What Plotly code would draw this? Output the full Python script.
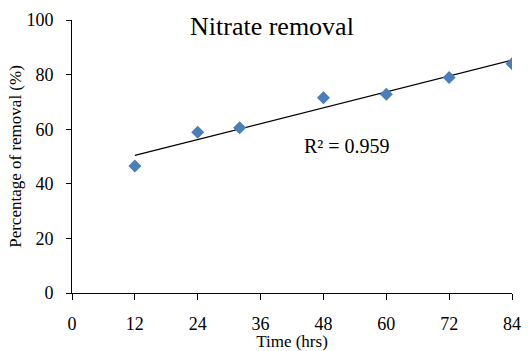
import numpy as np
import plotly.graph_objects as go

time_hrs = [12, 24, 32, 48, 60, 72, 84]
removal_pct = [46.5, 58.9, 60.5, 71.5, 72.8, 78.9, 84.0]
x_ticks = [0, 12, 24, 36, 48, 60, 72, 84]
y_ticks = [0, 20, 40, 60, 80, 100]
title_text = "Nitrate removal"
r2_text = "R² = 0.959"

slope, intercept = np.polyfit(time_hrs, removal_pct, 1)
trend_x = [min(time_hrs), max(time_hrs)]
trend_y = [slope * v + intercept for v in trend_x]

font_family = "Liberation Serif, Times New Roman, serif"

fig = go.Figure()
fig.add_trace(go.Scatter(x=trend_x, y=trend_y, mode="lines",
                         line=dict(color="black", width=1.2), showlegend=False, hoverinfo="skip"))
fig.add_trace(go.Scatter(x=time_hrs, y=removal_pct, mode="markers",
                         marker=dict(symbol="diamond", size=10, color="#4A7EBB"),
                         showlegend=False))

fig.update_layout(
    width=528, height=351,
    margin=dict(l=72, r=16, t=20, b=58),
    paper_bgcolor="white", plot_bgcolor="white",
    font=dict(family=font_family, color="black", size=17),
    showlegend=False,
)
fig.update_xaxes(range=[0, 84], tickvals=x_ticks, ticktext=[str(v) for v in x_ticks],
                 showgrid=False, zeroline=False, showline=True, linecolor="black", linewidth=1,
                 ticks="outside", ticklen=6, tickcolor="black", automargin=False,
                 ticklabelstandoff=8,
                 title=dict(text="Time (hrs)", font=dict(size=17), standoff=0),
                 tickfont=dict(size=18))
fig.update_yaxes(range=[0, 100], tickvals=y_ticks, ticktext=[str(v) for v in y_ticks],
                 showgrid=False, zeroline=False, showline=True, linecolor="black", linewidth=1,
                 ticks="outside", ticklen=5, tickcolor="black", automargin=False,
                 ticklabelstandoff=9,
                 title=dict(text="Percentage of removal (%)", font=dict(size=17), standoff=0),
                 tickfont=dict(size=18))

fig.add_annotation(text=title_text, xref="x", yref="y", x=(272 - 72) / 440 * 84,
                   y=(293 - 26) / 273 * 100, showarrow=False, font=dict(size=26))
fig.add_annotation(text=r2_text, xref="x", yref="y", x=(347 - 72) / 440 * 84,
                   y=(293 - 146) / 273 * 100, showarrow=False, font=dict(size=20))

fig.write_html("out.html")
